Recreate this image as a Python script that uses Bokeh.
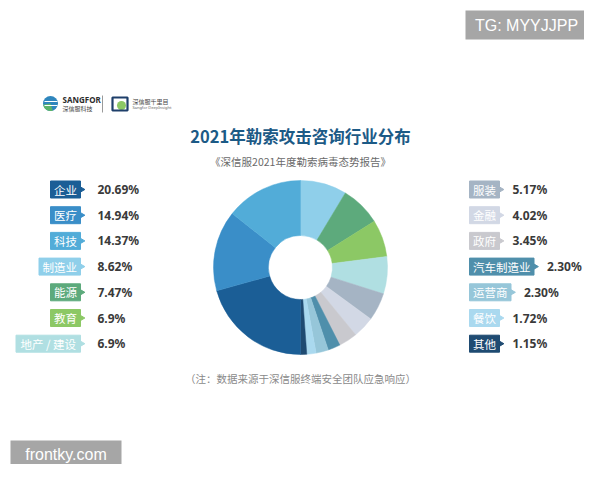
import math
from bokeh.plotting import figure
from bokeh.models import Range1d, ColumnDataSource
from bokeh.core.properties import value
from bokeh.embed import file_html
from bokeh.resources import INLINE

# ---- data ----
categories = ["制造业", "能源", "教育", "地产 / 建设", "服装", "金融", "政府",
              "汽车制造业", "运营商", "餐饮", "其他", "企业", "医疗", "科技"]
shares = [8.62, 7.47, 6.9, 6.9, 5.17, 4.02, 3.45, 2.30, 2.30, 1.72, 1.15, 20.69, 14.94, 14.37]
share_labels = ["8.62%", "7.47%", "6.9%", "6.9%", "5.17%", "4.02%", "3.45%",
                "2.30%", "2.30%", "1.72%", "1.15%", "20.69%", "14.94%", "14.37%"]
colors = ["#8fcfea", "#5daa7c", "#8cc865", "#b0dfe2", "#a5b4c4", "#d2d8e5", "#c9c9ce",
          "#4f8fab", "#96c6d9", "#aad9ef", "#1f4b72", "#1b5e96", "#3a8ec8", "#52acd8"]
left_order = ["企业", "医疗", "科技", "制造业", "能源", "教育", "地产 / 建设"]
right_order = ["服装", "金融", "政府", "汽车制造业", "运营商", "餐饮", "其他"]

title = "2021年勒索攻击咨询行业分布"
subtitle = "《深信服2021年度勒索病毒态势报告》"
note = "（注：数据来源于深信服终端安全团队应急响应）"

W, H = 584, 464
p = figure(width=W, height=H, output_backend="svg", toolbar_location=None,
           x_range=Range1d(0, 584), y_range=Range1d(16, 480),
           min_border=0, outline_line_color=None, background_fill_color="white",
           border_fill_color="white")
p.xaxis.visible = False
p.yaxis.visible = False
p.grid.visible = False

def Y(sy):
    return 480 - sy

CJK = value("Noto Sans CJK SC")

# ---- donut ----
total = sum(shares)
starts, ends = [], []
acc = 0.0
for s in shares:
    starts.append(math.pi / 2 - 2 * math.pi * acc / total)
    acc += s
    ends.append(math.pi / 2 - 2 * math.pi * acc / total)
src = ColumnDataSource(dict(start=starts, end=ends, color=colors, cat=categories))
cx, cy = 300, Y(267)
p.annular_wedge(x=cx, y=cy, inner_radius=32, outer_radius=87, start_angle="start",
                end_angle="end", direction="clock", color="color", line_color="color",
                line_width=0.5, source=src)

# ---- legends ----
def label_width(t):
    w = 0
    for ch in t:
        if ch == " ":
            w += 3.5
        elif ord(ch) < 128:
            w += 4.5
        else:
            w += 11.5
    return w + 7

lookup = {c: (s, col) for c, s, col in zip(categories, share_labels, colors)}
row0, step, bh = 189, 25.7, 17

def draw_legend(order, side):
    bx0, bx1, by0, by1, tx, ty, tl, ax, ay, cols, px, py, pl = ([] for _ in range(13))
    for i, c in enumerate(order):
        lab, col = lookup[c]
        yc = Y(row0 + i * step)
        w = label_width(c)
        if side == "left":
            x1 = 80
            x0 = x1 - w
        else:
            x0 = 469
            x1 = x0 + w
        bx0.append(x0); bx1.append(x1); by0.append(yc - bh / 2); by1.append(yc + bh / 2)
        cols.append(col)
        tx.append((x0 + x1) / 2); ty.append(yc); tl.append(c)
        ax.append(x1 + 1.5); ay.append(yc)
        px.append(97 if side == "left" else x1 + 13); py.append(yc); pl.append(lab)
    p.quad(left=bx0, right=bx1, bottom=by0, top=by1, fill_color=cols, line_color=cols)
    p.scatter(x=ax, y=ay, marker="triangle", angle=-math.pi / 2, size=5,
              fill_color=cols, line_color=cols)
    p.text(x=tx, y=ty, text=tl, text_font=CJK, text_font_size="11.5px",
           text_color="white", text_align="center", text_baseline="middle")
    p.text(x=px, y=py, text=pl, text_font=value("Noto Sans"), text_font_style="bold",
           text_font_size="12px", text_color="#3a3a3a", text_align="left",
           text_baseline="middle")

draw_legend(left_order, "left")
draw_legend(right_order, "right")

# ---- titles ----
p.text(x=[300], y=[Y(135)], text=[title], text_font=CJK, text_font_style="bold",
       text_font_size="16.5px", text_color="#1c5a86", text_align="center",
       text_baseline="middle")
p.text(x=[300], y=[Y(161)], text=[subtitle], text_font=CJK,
       text_font_size="10.5px", text_color="#6a6a6a", text_align="center",
       text_baseline="middle")
p.text(x=[300], y=[Y(378)], text=[note], text_font=CJK,
       text_font_size="10.5px", text_color="#8a8a8a", text_align="center",
       text_baseline="middle")

# ---- logo ----
p.scatter(x=[50], y=[Y(103)], marker="circle", size=15, fill_color="#2f86bd",
          line_color=None)
p.annular_wedge(x=[50], y=[Y(103)], inner_radius=0, outer_radius=7.5,
                start_angle=math.pi * 1.05, end_angle=math.pi * 1.6,
                color="#5bb36a", line_color=None)
p.segment(x0=[44, 44], y0=[Y(101), Y(105)], x1=[57, 57], y1=[Y(101), Y(105)],
          line_color="white", line_width=1)
p.text(x=[62], y=[Y(99)], text=["SANGFOR"], text_font=value("Noto Sans"),
       text_font_style="bold", text_font_size="8px", text_color="#2b2b2b",
       text_baseline="middle")
p.text(x=[62], y=[Y(107.5)], text=["深信服科技"], text_font=CJK,
       text_font_size="6px", text_color="#444444", text_baseline="middle")
p.segment(x0=[102], y0=[Y(95)], x1=[102], y1=[Y(112)], line_color="#9a9a9a",
          line_width=1)
p.scatter(x=[121], y=[Y(105)], marker="circle", size=9, fill_color="#8cc865",
          line_color=None)
p.quad(left=[112], right=[127], bottom=[Y(110)], top=[Y(97)], fill_color=None,
       line_color="#1e3f6a", line_width=2.2)
p.text(x=[132], y=[Y(101)], text=["深信服千里目"], text_font=CJK,
       text_font_size="6px", text_color="#444444", text_baseline="middle")
p.text(x=[132], y=[Y(107)], text=["Sangfor DeepInsight"], text_font=value("Noto Sans"),
       text_font_size="4px", text_color="#666666", text_baseline="middle")

# ---- watermarks ----
p.quad(left=[465], right=[590], bottom=[Y(39)], top=[Y(10)], fill_color="#a6a6a6",
       line_color=None)
p.text(x=[526], y=[Y(24.5)], text=["TG: MYYJJPP"], text_font=value("Liberation Sans"),
       text_font_size="16px", text_color="white", text_align="center",
       text_baseline="middle")
p.quad(left=[10], right=[121], bottom=[Y(470)], top=[Y(440)], fill_color="#a6a6a6",
       line_color=None)
p.text(x=[65.5], y=[Y(454)], text=["frontky.com"], text_font=value("Liberation Sans"),
       text_font_size="16px", text_color="white", text_align="center",
       text_baseline="middle")

open("out.html", "w").write(file_html(p, INLINE))
